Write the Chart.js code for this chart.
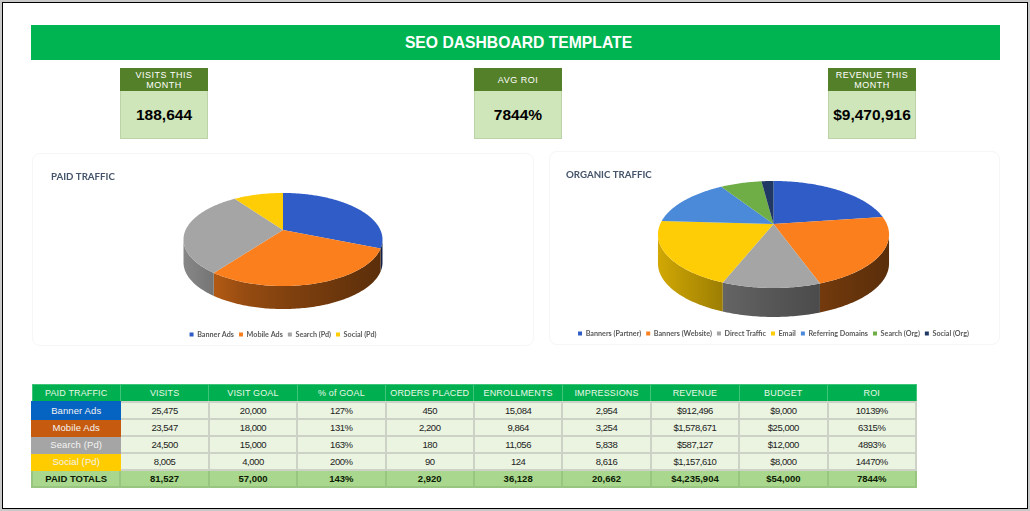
<!DOCTYPE html>
<html>
<head>
<meta charset="utf-8">
<title>SEO Dashboard Template</title>
<script src="https://cdn.jsdelivr.net/npm/chart.js@4"></script>
<style>
  html, body { margin: 0; padding: 0; background: #fff; overflow: hidden; }
  body { width: 1030px; height: 511px; position: relative; font-family: "Liberation Sans", Arial, sans-serif; }
  #frame { position: absolute; left: 0; top: 0; width: 1024px; height: 505px; border: 1px solid #000; outline: 2px solid #c9c9c9; outline-offset: 0; margin: 2px; }
  #banner { position: absolute; left: 31px; top: 25px; width: 963px; height: 35px; padding-left: 6px; background: #00b551; color: #fff; font-weight: bold; font-size: 15.7px; line-height: 35px; text-align: center; }
  .kpi { position: absolute; top: 68px; width: 88px; height: 71px; background: #cfe6ba; box-shadow: inset 0 0 0 1px #bcd3a8; text-align: center; }
  .kpi .head { height: 23px; background: #548029; color: #fff; font-size: 9px; line-height: 10px; letter-spacing: .5px; box-sizing: border-box; display: flex; align-items: center; justify-content: center; }
  .kpi .val { font-weight: bold; font-size: 15.5px; line-height: 48px; color: #000; }
  .card { position: absolute; border: 1px solid #f6f6f6; border-radius: 8px; box-sizing: border-box; }
  .card canvas { position: absolute; left: 0; top: 0; }
  #paidCard { left: 32px; top: 153px; width: 502px; height: 193px; }
  #organicCard { left: 549px; top: 151px; width: 451px; height: 194px; }
  table { position: absolute; left: 31px; top: 384px; width: 886px; border-collapse: collapse; table-layout: fixed; }
  tr { height: 17px; }
  td { height: 17px; padding: 0; box-sizing: border-box; border: 2px solid #ccd3c6; background: #eaf4e0; color: #222; font-size: 9.5px; letter-spacing: -.45px; text-align: center; white-space: nowrap; overflow: hidden; }
  tr.head td { background: #00b050; color: #e9f7e6; border: 1px solid #3fc47a; font-size: 9px; letter-spacing: .15px; }
  tr.total td { background: #a9d78d; color: #0c1a05; font-weight: bold; letter-spacing: 0; border-color: #98c580; }
  td.name { color: #f4f4f4; font-size: 9.5px; letter-spacing: .1px; }
</style>
</head>
<body>
<div id="frame"></div>
<div id="banner">SEO DASHBOARD TEMPLATE</div>
<div id="kpis"></div>
<div class="card" id="paidCard"><canvas id="paidChart" width="500" height="195"></canvas></div>
<div class="card" id="organicCard"><canvas id="organicChart" width="449" height="196"></canvas></div>
<table id="table"></table>

<script>
const kpiLabels = ["VISITS THIS MONTH", "AVG ROI", "REVENUE THIS MONTH"];
const kpiValues = ["188,644", "7844%", "$9,470,916"];

const paidLabels = ["Banner Ads", "Mobile Ads", "Search (Pd)", "Social (Pd)"];
const paidVisits = [25475, 23547, 24500, 8005];
const paidColors = ["#2f5cc6", "#fb7f1c", "#a5a5a5", "#ffcd05"];

const organicLabels = ["Banners (Partner)", "Banners (Website)", "Direct Traffic", "Email", "Referring Domains", "Search (Org)", "Social (Org)"];
const organicVisits = [24400, 23350, 12200, 21400, 16100, 7500, 2167];
const organicColors = ["#2f5cc6", "#fb7f1c", "#a5a5a5", "#ffcd05", "#4a8ad8", "#6fad47", "#1f3864"];

const tableHead = ["PAID TRAFFIC", "VISITS", "VISIT GOAL", "% of GOAL", "ORDERS PLACED", "ENROLLMENTS", "IMPRESSIONS", "REVENUE", "BUDGET", "ROI"];
const visitGoal = ["20,000", "18,000", "15,000", "4,000"];
const pctGoal = ["127%", "131%", "163%", "200%"];
const orders = ["450", "2,200", "180", "90"];
const enrollments = ["15,084", "9,864", "11,056", "124"];
const impressions = ["2,954", "3,254", "5,838", "8,616"];
const revenue = ["$912,496", "$1,578,671", "$587,127", "$1,157,610"];
const budget = ["$9,000", "$25,000", "$12,000", "$8,000"];
const roi = ["10139%", "6315%", "4893%", "14470%"];
const totals = ["PAID TOTALS", "81,527", "57,000", "143%", "2,920", "36,128", "20,662", "$4,235,904", "$54,000", "7844%"];
const nameColors = ["#0563c1", "#c65a0e", "#a5a5a5", "#ffcc00"];

// riquadri KPI
const kpiLeft = [120, 474, 828];
document.getElementById("kpis").innerHTML = kpiLabels.map(function (lab, i) {
  return '<div class="kpi" style="left:' + kpiLeft[i] + 'px"><div class="head"><span style="max-width:78px">' + lab +
    '</span></div><div class="val">' + kpiValues[i] + '</div></div>';
}).join("");

// tabella
function cell(txt, cls, style) {
  return "<td" + (cls ? ' class="' + cls + '"' : "") + (style ? ' style="' + style + '"' : "") + ">" + txt + "</td>";
}
let html = '<tr class="head">' + tableHead.map(function (h) { return cell(h); }).join("") + "</tr>";
paidLabels.forEach(function (name, i) {
  const cols = [paidVisits[i].toLocaleString("en-US"), visitGoal[i], pctGoal[i], orders[i], enrollments[i], impressions[i], revenue[i], budget[i], roi[i]];
  html += "<tr>" + cell(name, "name", "background:" + nameColors[i] + ";border-color:" + nameColors[i]) + cols.map(function (c) { return cell(c); }).join("") + "</tr>";
});
html += '<tr class="total">' + totals.map(function (t) { return cell(t); }).join("") + "</tr>";
document.getElementById("table").innerHTML = html;

function shade(hex, f) {
  const n = parseInt(hex.slice(1), 16);
  const r = Math.round((n >> 16) * f), g = Math.round(((n >> 8) & 255) * f), b = Math.round((n & 255) * f);
  return "rgb(" + r + "," + g + "," + b + ")";
}

// torta "3D": gli angoli e il raggio vengono dagli archi di Chart.js,
// qui si proietta solo in prospettiva e si aggiunge il bordo laterale
const tiltPlugin = {
  id: "tilt",
  beforeDatasetDraw: function (chart, args, opts) {
    const ctx = chart.ctx;
    const arcs = chart.getDatasetMeta(args.index).data;
    const colors = chart.data.datasets[args.index].backgroundColor;
    const p = opts.persp, cy = opts.centerY, depth = opts.depth;
    const R = arcs[0].outerRadius, cx = arcs[0].x, A = R * opts.flat;
    function pt(a) {
      const w = 1 - p * Math.sin(a);
      return [cx + R * Math.cos(a) / w, cy + A * Math.sin(a) / w];
    }
    function rim(from, to, dy, back) {
      const n = Math.max(2, Math.ceil(Math.abs(to - from) * 60));
      for (let i = 0; i <= n; i++) {
        const t = back ? 1 - i / n : i / n;
        const q = pt(from + (to - from) * t);
        ctx.lineTo(q[0], q[1] + dy);
      }
    }
    const frontStart = Math.asin(p), frontEnd = Math.PI - frontStart;
    const left = cx - R * 1.02, right = cx + R * 1.02;
    ctx.save();
    // parete laterale, solo la parte davanti
    arcs.forEach(function (arc, i) {
      const a0 = Math.max(arc.startAngle, frontStart), a1 = Math.min(arc.endAngle, frontEnd);
      if (a1 <= a0) return;
      const g = ctx.createLinearGradient(left, 0, right, 0);
      g.addColorStop(0, shade(colors[i], 0.82));
      g.addColorStop(0.3, shade(colors[i], 0.6));
      g.addColorStop(0.5, shade(colors[i], 0.52));
      g.addColorStop(1, shade(colors[i], 0.36));
      ctx.fillStyle = g;
      ctx.beginPath();
      rim(a0, a1, 0, false);
      rim(a0, a1, depth, true);
      ctx.closePath();
      ctx.fill();
    });
    // faccia superiore
    arcs.forEach(function (arc, i) {
      ctx.fillStyle = colors[i];
      ctx.beginPath();
      ctx.moveTo(cx, cy);
      rim(arc.startAngle, arc.endAngle, 0, false);
      ctx.closePath();
      ctx.fill();
    });
    ctx.restore();
    return false;
  }
};

function makePie(id, labels, values, colors, radius, tilt, pad) {
  return new Chart(document.getElementById(id), {
    type: "pie",
    data: { labels: labels, datasets: [{ data: values, backgroundColor: colors, borderWidth: 0, radius: radius }] },
    plugins: [tiltPlugin],
    options: {
      responsive: false,
      animation: false,
      layout: { padding: pad },
      plugins: {
        tooltip: { enabled: false },
        tilt: tilt,
        title: {
          display: true, text: id === "paidChart" ? "PAID TRAFFIC" : "ORGANIC TRAFFIC", align: "start",
          color: "#44546a", font: { family: "Lato", size: 9.7, weight: "bold" }, padding: 0
        },
        legend: {
          position: "bottom",
          labels: {
            usePointStyle: true, pointStyle: "rect", boxWidth: 4, boxHeight: 4, padding: 5,
            color: "#595959", font: { family: "Lato", size: 7.2, weight: "bold" }
          }
        }
      }
    }
  });
}

makePie("paidChart", paidLabels, paidVisits, paidColors, 97.4,
  { persp: 0.204, flat: 0.458, centerY: 76, depth: 23 },
  { left: 18, right: 18, top: 17, bottom: 1 });
makePie("organicChart", organicLabels, organicVisits, organicColors, 113.3,
  { persp: 0.196, flat: 0.454, centerY: 72, depth: 29 },
  { left: 16, right: 18, top: 17, bottom: 1 });
</script>
</body>
</html>
